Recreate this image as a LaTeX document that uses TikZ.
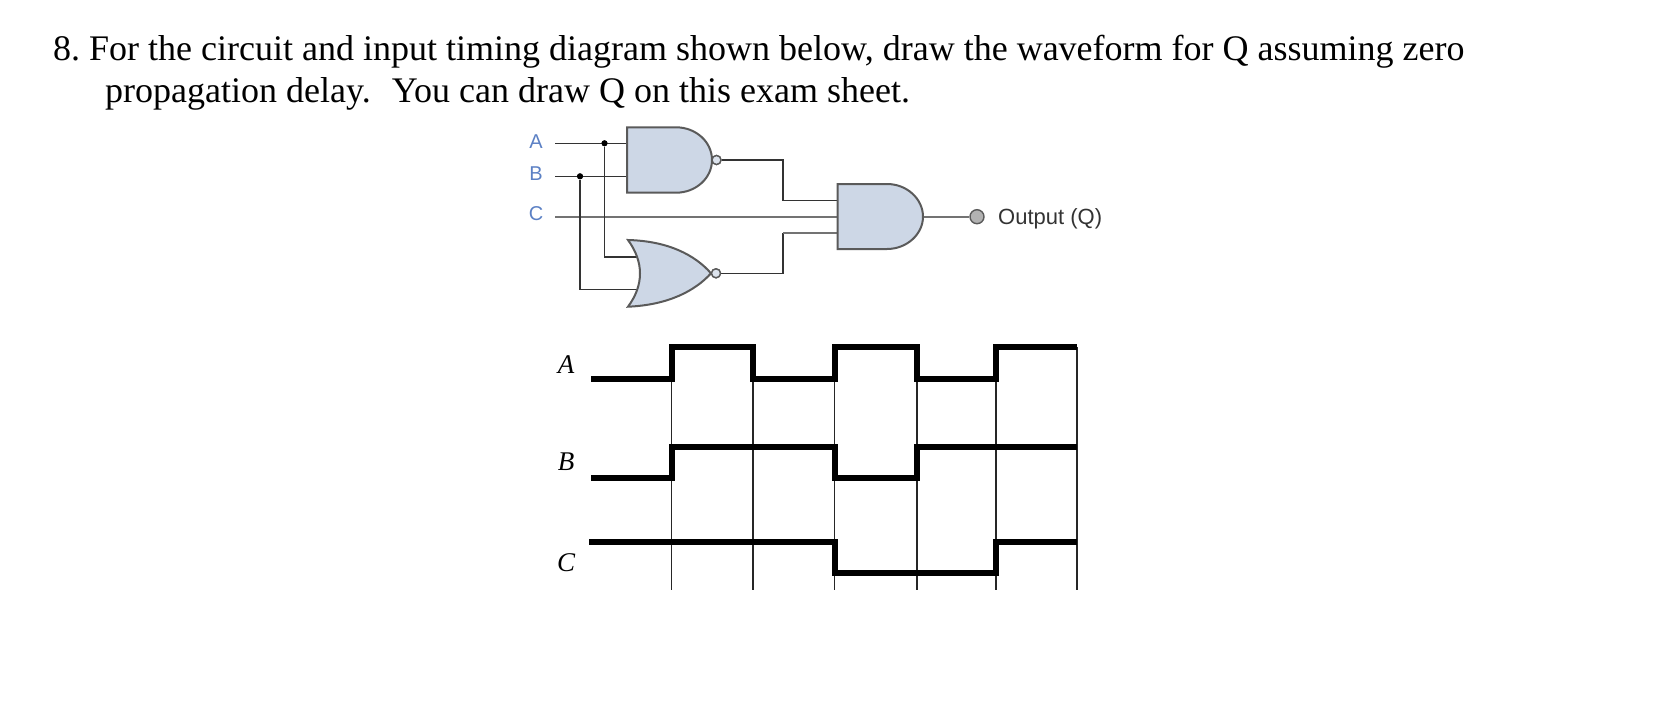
\documentclass[tikz,border=0pt]{standalone}
\usepackage{fontspec}
\setmainfont{Liberation Serif}
\newfontfamily\gatefont{Liberation Sans}
\definecolor{gatefill}{HTML}{CDD7E6}
\definecolor{gateline}{HTML}{5A5A5A}
\definecolor{labelblue}{HTML}{5B80C4}
\tikzset{
  question/.style={anchor=base west,inner sep=0pt,font=\fontsize{36}{36}\selectfont\frenchspacing},
  gatelabel/.style={inner sep=0pt,text=labelblue,font=\gatefont\fontsize{20}{20}\selectfont},
  outlabel/.style={anchor=west,inner sep=0pt,text=black!80,font=\gatefont\fontsize{22}{22}\selectfont},
  siglabel/.style={inner sep=0pt,font=\fontsize{27}{27}\selectfont\itshape},
  gateshape/.style={draw=gateline,fill=gatefill,line width=2pt},
  darkwire/.style={draw=black!80,line width=1.6pt},
  greywire/.style={draw=black!55,line width=2.4pt},
  bubble/.style={circle,draw=gateline,fill=gatefill!70!white,line width=1.4pt,inner sep=0pt,minimum size=9pt},
  outdot/.style={circle,draw=gateline,fill=black!30,line width=1.4pt,inner sep=0pt,minimum size=14pt},
  junction/.style={circle,fill=black,inner sep=0pt,minimum size=6pt},
  wave/.style={draw=black,line width=6pt,line join=miter},
  gridline/.style={draw=black!85,line width=1.2pt}
}
\begin{document}
\begin{tikzpicture}[x=1pt,y=-1pt]
\useasboundingbox (0,0) rectangle (1658,718);
% question text
\node[question] (q1) at (53,60) {8. For the circuit and input timing diagram shown below, draw the waveform for Q assuming zero};
\node[question] (q2) at (105,102) {propagation delay.\hspace{12pt} You can draw Q on this exam sheet.};
% circuit labels
\node[gatelabel] (la) at (536,142) {A};
\node[gatelabel] (lb) at (536,174) {B};
\node[gatelabel] (lc) at (536,214) {C};
% named points
\coordinate (as) at (555,143.3);
\coordinate (bs) at (555,176.3);
\coordinate (cs) at (555,216.7);
\node[junction] (ja) at (604.5,143.3) {};
\node[junction] (jb) at (580,176.3) {};
\coordinate (nandA) at (630,143.3);
\coordinate (nandB) at (630,176.3);
\coordinate (orA) at (637,256.7);
\coordinate (orB) at (637,289.3);
\coordinate (andT) at (840,200.3);
\coordinate (andM) at (840,216.7);
\coordinate (andB) at (840,233);
\coordinate (andO) at (923,216.7);
\coordinate (bendB) at (783,233);
\node[outdot] (out) at (977,216.7) {};
\node[outlabel] (outl) at (998,219) {Output (Q)};
\node[bubble] (bn) at (716.5,160) {};
\node[bubble] (bo) at (716,273.3) {};
% wires
\draw[greywire] (cs) -- (andM);
\draw[darkwire] (as) -- (nandA);
\draw[darkwire] (bs) -- (nandB);
\draw[darkwire] (ja) |- (orA);
\draw[darkwire] (jb) |- (orB);
\draw[greywire] (andO) -- (out);
\draw[darkwire] (bn) -| (783,200.3) -- (andT);
\draw[darkwire] (bo) -| (bendB);
\draw[greywire] (bendB) -- (andB);
% gates
\path[gateshape] (627,127.3) -- (676,127.3) .. controls (696,127.3) and (712,142) .. (712,160) .. controls (712,178) and (696,192.7) .. (676,192.7) -- (627,192.7) -- cycle;
\path[gateshape] (837.5,184) -- (887,184) .. controls (907,184) and (923,199) .. (923,216.7) .. controls (923,234) and (907,249) .. (887,249) -- (837.5,249) -- cycle;
\path[gateshape] (628,240) .. controls (668,241) and (695,255) .. (711,273.3) .. controls (695,291) and (668,305) .. (628,306.7) .. controls (644,285) and (644,262) .. (628,240) -- cycle;
\node[bubble] at (bn) {};
\node[bubble] at (bo) {};
\node[junction] at (ja) {};
\node[junction] at (jb) {};
% timing grid
\coordinate (t0) at (671.5,347);
\coordinate (t1) at (753,379);
\coordinate (t2) at (834.5,379);
\coordinate (t3) at (917,379);
\coordinate (t4) at (996,379);
\coordinate (t5) at (1077,347);
\foreach \p in {t0,t1,t2,t3,t4,t5} \draw[gridline] (\p) -- (\p |- 0,589.5);
% signal labels
\node[siglabel] (sa) at (566,365) {A};
\node[siglabel] (sb) at (566,462) {B};
\node[siglabel] (sc) at (566,563) {C};
% waves
\draw[wave] (591,379) -- (671.5,379) -- (671.5,347) -- (753,347) -- (753,379) -- (834.5,379) -- (834.5,347) -- (917,347) -- (917,379) -- (996,379) -- (996,347) -- (1077,347);
\draw[wave] (591,478) -- (671.5,478) -- (671.5,447) -- (834.5,447) -- (834.5,478) -- (917,478) -- (917,447) -- (1077,447);
\draw[wave] (589,541.7) -- (834.5,541.7) -- (834.5,573.3) -- (996,573.3) -- (996,541.7) -- (1077,541.7);
\end{tikzpicture}
\end{document}
